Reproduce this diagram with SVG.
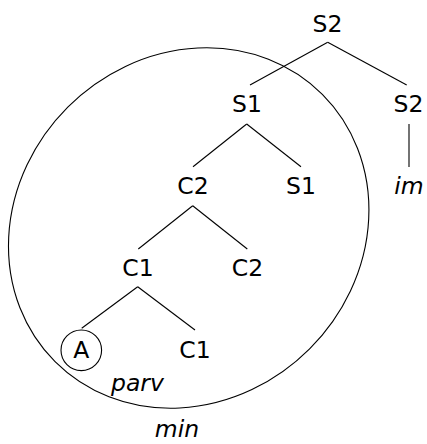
<svg xmlns="http://www.w3.org/2000/svg" width="427" height="444" viewBox="0 0 427 444">
<style>
text{font-family:"DejaVu Sans",sans-serif;font-size:23.5px;fill:#000;text-anchor:middle}
.it{font-style:italic}
.e{stroke:#000;stroke-width:1.1;fill:none}
</style>
<rect width="427" height="444" fill="#fff"/>
<g id="region" class="e">
<ellipse cx="0" cy="0" rx="189" ry="171" transform="translate(188.7,228) rotate(-45)"/>
</g>
<g id="connectors" class="e">
<line x1="327.7" y1="42.3" x2="250" y2="85"/>
<line x1="327.7" y1="42.3" x2="406.7" y2="85"/>
<line x1="409" y1="124" x2="409" y2="167"/>
<line x1="246.7" y1="124" x2="193" y2="166.7"/>
<line x1="246.7" y1="124" x2="301" y2="166.7"/>
<line x1="192.7" y1="205.7" x2="138.3" y2="249"/>
<line x1="192.7" y1="205.7" x2="247.3" y2="249"/>
<line x1="137.7" y1="286.7" x2="81.7" y2="328.3"/>
<line x1="137.7" y1="286.7" x2="195" y2="330"/>
</g>
<g id="n-S2-root"><text x="327.5" y="31.5">S2</text></g>
<g id="n-S1"><text x="247" y="111.5">S1</text></g>
<g id="n-S2-right"><text x="408.5" y="111.5">S2</text></g>
<g id="n-C2"><text x="193" y="194">C2</text></g>
<g id="n-S1-low"><text x="301" y="194">S1</text></g>
<g id="n-im"><text class="it" x="409" y="194">im</text></g>
<g id="n-C1"><text x="138" y="276">C1</text></g>
<g id="n-C2-low"><text x="247.5" y="276">C2</text></g>
<g id="n-A"><circle class="e" cx="81.3" cy="350.3" r="20.3"/><text x="81.3" y="358">A</text></g>
<g id="n-C1-low"><text x="195" y="357.5">C1</text></g>
<g id="l-parv"><text class="it" x="137.5" y="391">parv</text></g>
<g id="l-min"><text class="it" x="177" y="437">min</text></g>
</svg>
